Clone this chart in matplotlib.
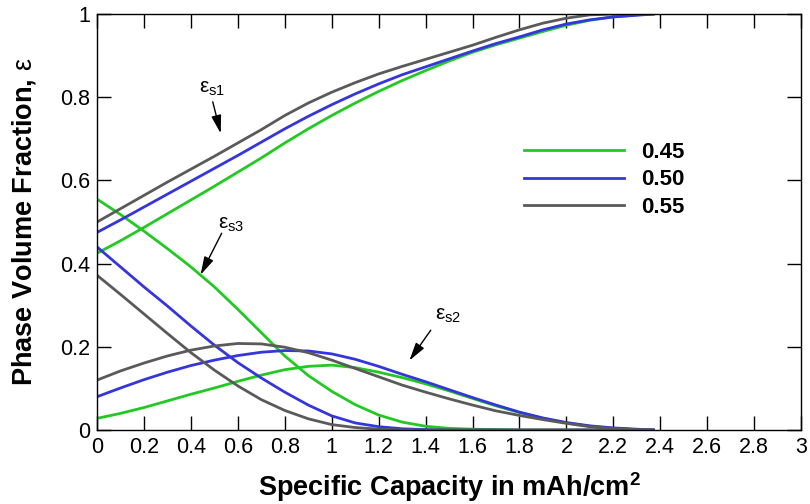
import matplotlib
matplotlib.use("Agg")
import matplotlib.pyplot as plt

# Specific capacity grid (mAh/cm^2)
capacity = [0.0, 0.1, 0.2, 0.3, 0.4, 0.5, 0.6, 0.7, 0.8, 0.9, 1.0, 1.1, 1.2,
            1.3, 1.4, 1.5, 1.6, 1.7, 1.8, 1.9, 2.0, 2.1, 2.2, 2.3, 2.37]

# eps_s1 (product phase) for the three initial porosities
s1_045 = [0.425, 0.455, 0.487, 0.520, 0.553, 0.586, 0.620, 0.654, 0.690, 0.724, 0.756,
          0.786, 0.814, 0.840, 0.864, 0.887, 0.908, 0.926, 0.942, 0.958, 0.973, 0.985,
          0.993, 0.998, 1.000]
s1_050 = [0.475, 0.505, 0.536, 0.567, 0.598, 0.629, 0.660, 0.692, 0.724, 0.754, 0.782,
          0.808, 0.832, 0.854, 0.873, 0.892, 0.911, 0.929, 0.945, 0.962, 0.976, 0.986,
          0.993, 0.997, 1.000]
s1_055 = [0.500, 0.532, 0.564, 0.596, 0.627, 0.658, 0.690, 0.722, 0.756, 0.786, 0.812,
          0.835, 0.856, 0.874, 0.891, 0.908, 0.925, 0.944, 0.962, 0.978, 0.990, 0.998,
          1.000, 1.000, 1.000]

# eps_s2 (intermediate phase)
s2_045 = [0.028, 0.040, 0.054, 0.070, 0.086, 0.101, 0.117, 0.132, 0.145, 0.153, 0.156,
          0.150, 0.139, 0.126, 0.111, 0.094, 0.076, 0.058, 0.042, 0.028, 0.017, 0.009,
          0.004, 0.001, 0.000]
s2_050 = [0.080, 0.101, 0.121, 0.139, 0.155, 0.168, 0.179, 0.187, 0.191, 0.190, 0.183,
          0.170, 0.153, 0.134, 0.116, 0.097, 0.078, 0.060, 0.043, 0.029, 0.018, 0.010,
          0.005, 0.002, 0.000]
s2_055 = [0.120, 0.142, 0.161, 0.178, 0.192, 0.202, 0.208, 0.207, 0.199, 0.186, 0.168,
          0.148, 0.128, 0.108, 0.091, 0.075, 0.060, 0.046, 0.035, 0.025, 0.016, 0.008,
          0.003, 0.001, 0.000]

# eps_s3 (reactant phase)
s3_045 = [0.555, 0.518, 0.478, 0.436, 0.392, 0.344, 0.290, 0.234, 0.178, 0.131, 0.093,
          0.061, 0.036, 0.019, 0.009, 0.004, 0.002, 0.001, 0.000, 0.000, 0.000, 0.000,
          0.000, 0.000, 0.000]
s3_050 = [0.440, 0.392, 0.344, 0.298, 0.250, 0.204, 0.162, 0.125, 0.091, 0.060, 0.034,
          0.017, 0.008, 0.003, 0.001, 0.000, 0.000, 0.000, 0.000, 0.000, 0.000, 0.000,
          0.000, 0.000, 0.000]
s3_055 = [0.372, 0.326, 0.279, 0.232, 0.186, 0.144, 0.106, 0.073, 0.047, 0.027, 0.013,
          0.006, 0.002, 0.000, 0.000, 0.000, 0.000, 0.000, 0.000, 0.000, 0.000, 0.000,
          0.000, 0.000, 0.000]

porosity_labels = ["0.45", "0.50", "0.55"]
colors = ["#22c922", "#3535dd", "#5a5a5a"]

x_ticks = [0, 0.2, 0.4, 0.6, 0.8, 1, 1.2, 1.4, 1.6, 1.8, 2, 2.2, 2.4, 2.6, 2.8, 3]
x_tick_labels = ["0", "0.2", "0.4", "0.6", "0.8", "1", "1.2", "1.4", "1.6", "1.8",
                 "2", "2.2", "2.4", "2.6", "2.8", "3"]
y_ticks = [0, 0.2, 0.4, 0.6, 0.8, 1]
y_tick_labels = ["0", "0.2", "0.4", "0.6", "0.8", "1"]

plt.rcParams["font.family"] = ["Liberation Sans", "DejaVu Sans"]
plt.rcParams["mathtext.fontset"] = "custom"
plt.rcParams["mathtext.rm"] = "Liberation Sans"
plt.rcParams["mathtext.it"] = "Liberation Sans"
plt.rcParams["mathtext.bf"] = "Liberation Sans:bold"

fig = plt.figure(figsize=(8.1, 5.04), dpi=100)
ax = fig.add_axes([0.1198, 0.1468, 0.8692, 0.8254])

groups = [(s1_045, s2_045, s3_045), (s1_050, s2_050, s3_050), (s1_055, s2_055, s3_055)]
handles = []
for (a, b, c), col, lab in zip(groups, colors, porosity_labels):
    h, = ax.plot(capacity, a, color=col, lw=2.0, label=lab)
    ax.plot(capacity, b, color=col, lw=2.0)
    ax.plot(capacity, c, color=col, lw=2.0)
    handles.append(h)

ax.set_xlim(0, 3)
ax.set_ylim(0, 1)
ax.set_xticks(x_ticks)
ax.set_xticklabels(x_tick_labels)
ax.set_yticks(y_ticks)
ax.set_yticklabels(y_tick_labels)
ax.tick_params(direction="in", length=10, width=1, top=True, right=True,
               labelsize=15.5, pad=5)
for sp in ax.spines.values():
    sp.set_linewidth(1.0)

ax.set_xlabel(r"Specific Capacity in mAh/cm$\mathbf{^2}$", fontsize=19.5,
              fontweight="bold", labelpad=9)
ax.set_ylabel(r"Phase Volume Fraction, $\mathrm{ε}$", fontsize=19.5, fontweight="bold")
ax.yaxis.set_label_coords(-0.084, 0.5)

leg = ax.legend(handles=handles, loc="upper left", bbox_to_anchor=(0.606, 0.692),
                frameon=False, fontsize=16, handlelength=4.5, handletextpad=0.8,
                labelspacing=0.28, borderaxespad=0, borderpad=0)
for t in leg.get_texts():
    t.set_fontweight("bold")

arrow_kw = dict(arrowstyle="-|>,head_length=1.1,head_width=0.3", color="black", lw=1.0,
                shrinkA=0, shrinkB=0)
ax.annotate("", xy=(0.527, 0.713), xytext=(0.493, 0.789), arrowprops=arrow_kw)
ax.annotate("", xy=(0.441, 0.373), xytext=(0.531, 0.473), arrowprops=arrow_kw)
ax.annotate("", xy=(1.331, 0.167), xytext=(1.422, 0.240), arrowprops=arrow_kw)
ax.text(0.49, 0.82, r"$\mathrm{ε_{s1}}$", fontsize=15, ha="center", va="center")
ax.text(0.571, 0.493, r"$\mathrm{ε_{s3}}$", fontsize=15, ha="center", va="center")
ax.text(1.495, 0.276, r"$\mathrm{ε_{s2}}$", fontsize=15, ha="center", va="center")

fig.savefig("out.png", dpi=100)
